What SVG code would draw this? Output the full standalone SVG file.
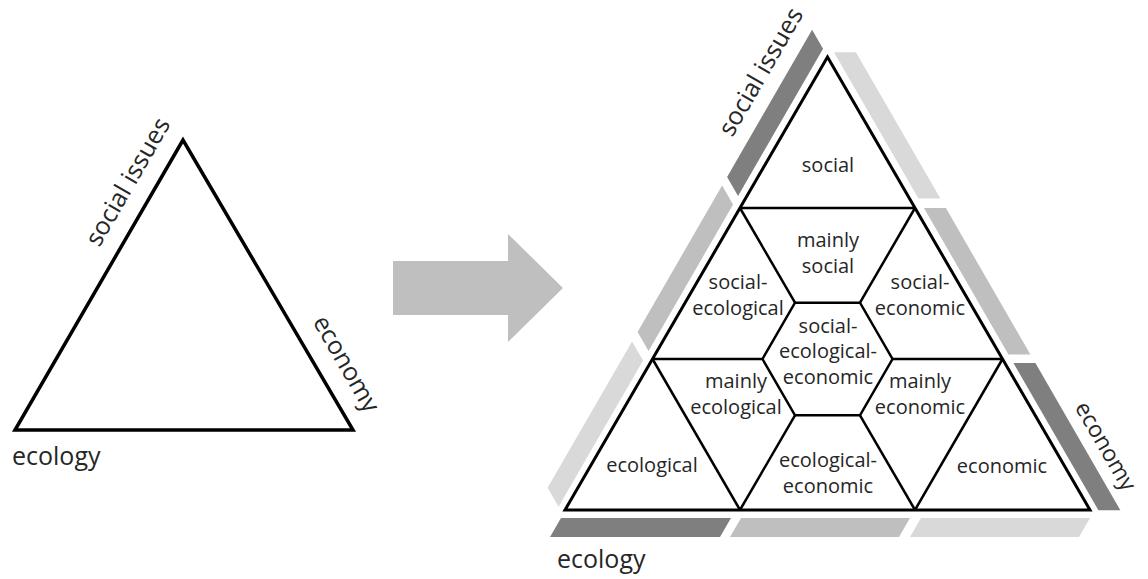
<svg xmlns="http://www.w3.org/2000/svg" xmlns:xlink="http://www.w3.org/1999/xlink" width="1148" height="579" viewBox="0 0 1148 579">
<style>
.t{font-family:"Open Sans","Liberation Sans",sans-serif;font-size:20px;fill:#262626;text-anchor:middle}
.lbl{font-family:"Open Sans","Liberation Sans",sans-serif;font-size:25px;fill:#262626;text-anchor:middle}
.ln{stroke:#000;stroke-width:2.5;fill:none;stroke-linejoin:miter}
.dark{fill:#7f7f7f}.mid{fill:#bfbfbf}.light{fill:#d9d9d9}
</style>
<defs>
<g id="bars">
<polygon class="dark" points="561,518 731,518 720,537 550,537"/>
<polygon class="mid" points="741,518 910,518 899,537 730,537"/>
<polygon class="light" points="921,518 1090,518 1079,537 910,537"/>
</g>
</defs>
<rect width="1148" height="579" fill="#fff"/>
<g id="left-triangle">
<polygon points="183,140 15,430 353,430" fill="none" stroke="#000" stroke-width="3.5" stroke-linejoin="miter"/>
<text class="lbl" transform="translate(135,186) rotate(-60)">social issues</text>
<text class="lbl" transform="translate(339,368) rotate(60)">economy</text>
<text class="lbl" x="12" y="465" style="text-anchor:start">ecology</text>
</g>
<g id="arrow">
<polygon points="393,261 508,261 508,234 563,288 508,342 508,315 393,315" fill="#bfbfbf"/>
</g>
<g id="bands">
<use xlink:href="#bars"/>
<use xlink:href="#bars" transform="rotate(120 827.5 359)"/>
<use xlink:href="#bars" transform="rotate(240 827.5 359)"/>
</g>
<g id="right-labels">
<text class="lbl" transform="translate(768,76) rotate(-60)">social issues</text>
<text class="lbl" style="font-size:23px" transform="translate(1099,450) rotate(60)">economy</text>
<text class="lbl" x="557" y="568" style="text-anchor:start">ecology</text>
</g>
<g id="connectors">
<line class="ln" x1="740" y1="208" x2="915" y2="208"/>
<line class="ln" x1="652.5" y1="359" x2="762.5" y2="359"/>
<line class="ln" x1="892.5" y1="359" x2="1002.5" y2="359"/>
<line class="ln" x1="740" y1="208" x2="795" y2="302.7"/>
<line class="ln" x1="915" y1="208" x2="860" y2="302.7"/>
<line class="ln" x1="795" y1="415.3" x2="740" y2="510"/>
<line class="ln" x1="860" y1="415.3" x2="915" y2="510"/>
<line class="ln" x1="652.5" y1="359" x2="740" y2="510"/>
<line class="ln" x1="1002.5" y1="359" x2="915" y2="510"/>
</g>
<g id="node-hexagon">
<polygon class="ln" points="762.5,359 795,302.7 860,302.7 892.5,359 860,415.3 795,415.3"/>
<text class="t" x="828" y="333">social-</text>
<text class="t" x="828" y="358">ecological-</text>
<text class="t" x="828" y="384">economic</text>
</g>
<g id="node-outer">
<polygon points="827.5,57 565,510 1090,510" fill="none" stroke="#000" stroke-width="3" stroke-linejoin="miter"/>
</g>
<g id="node-social"><text class="t" x="828" y="172">social</text></g>
<g id="node-mainly-social"><text class="t" x="828" y="247">mainly</text><text class="t" x="828" y="273">social</text></g>
<g id="node-social-ecological"><text class="t" x="738" y="289">social-</text><text class="t" x="738" y="315">ecological</text></g>
<g id="node-social-economic"><text class="t" x="920" y="289">social-</text><text class="t" x="920" y="315">economic</text></g>
<g id="node-mainly-ecological"><text class="t" x="736" y="388">mainly</text><text class="t" x="736" y="414">ecological</text></g>
<g id="node-mainly-economic"><text class="t" x="920" y="388">mainly</text><text class="t" x="920" y="414">economic</text></g>
<g id="node-ecological"><text class="t" x="652" y="472">ecological</text></g>
<g id="node-ecological-economic"><text class="t" x="828" y="467">ecological-</text><text class="t" x="828" y="493">economic</text></g>
<g id="node-economic"><text class="t" x="1002" y="473">economic</text></g>
</svg>
